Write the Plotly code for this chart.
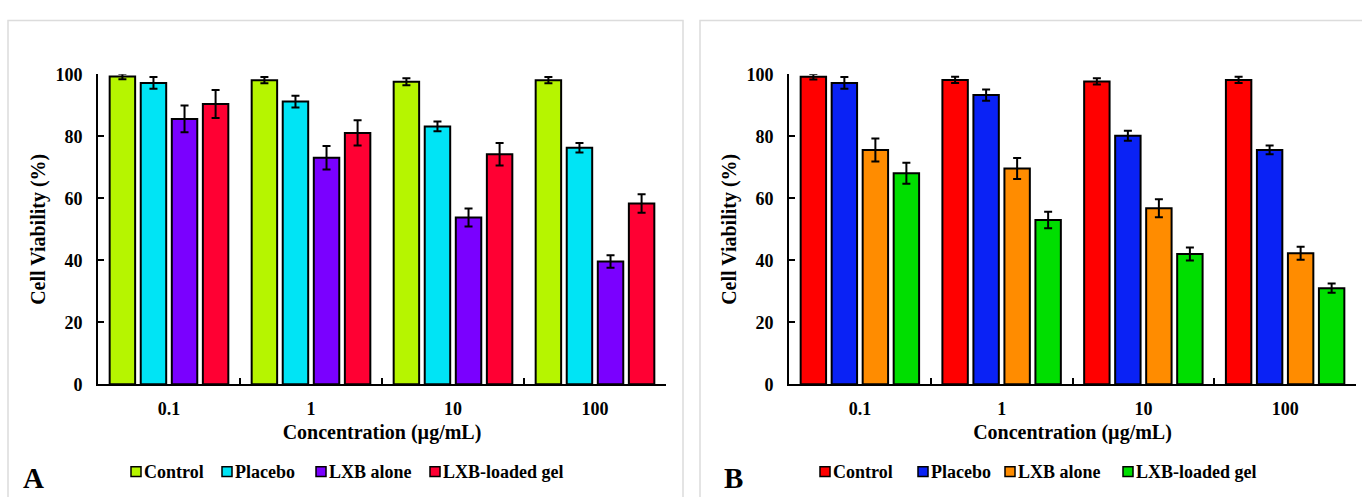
import plotly.graph_objects as go

# Shared categories and series names
concentrations = ["0.1", "1", "10", "100"]
series_names = ["Control", "Placebo", "LXB alone", "LXB-loaded gel"]
y_ticks = [0, 20, 40, 60, 80, 100]

# Panel A: cell viability (%) and SD
a_control = [99.3, 98.1, 97.6, 98.1]
a_control_err = [0.9, 1.0, 1.1, 1.0]
a_placebo = [97.2, 91.2, 83.2, 76.3]
a_placebo_err = [1.9, 1.9, 1.6, 1.5]
a_lxb_alone = [85.6, 73.1, 53.8, 39.6]
a_lxb_alone_err = [4.3, 3.8, 2.9, 2.0]
a_lxb_gel = [90.4, 81.1, 74.2, 58.3]
a_lxb_gel_err = [4.5, 4.1, 3.6, 3.0]

# Panel B: cell viability (%) and SD
b_control = [99.2, 98.2, 97.7, 98.2]
b_control_err = [0.9, 1.0, 1.0, 1.0]
b_placebo = [97.2, 93.3, 80.2, 75.6]
b_placebo_err = [1.9, 1.8, 1.6, 1.4]
b_lxb_alone = [75.6, 69.6, 56.8, 42.3]
b_lxb_alone_err = [3.7, 3.4, 2.9, 2.1]
b_lxb_gel = [68.1, 53.0, 42.0, 31.0]
b_lxb_gel_err = [3.4, 2.7, 2.1, 1.5]

colors_a = ["#B6F500", "#00E4F5", "#7A00FF", "#FF0033"]
colors_b = ["#FF0000", "#0A22F5", "#FF8C00", "#00DE00"]

W, H = 1362, 497
FONT = "Liberation Serif"

fig = go.Figure()

panels = [
    ("x", "y",
     [a_control, a_placebo, a_lxb_alone, a_lxb_gel],
     [a_control_err, a_placebo_err, a_lxb_alone_err, a_lxb_gel_err],
     colors_a),
    ("x2", "y2",
     [b_control, b_placebo, b_lxb_alone, b_lxb_gel],
     [b_control_err, b_placebo_err, b_lxb_alone_err, b_lxb_gel_err],
     colors_b),
]

for xa, ya, values, errors, colors in panels:
    for name, vals, errs, col in zip(series_names, values, errors, colors):
        fig.add_trace(go.Bar(
            x=concentrations, y=vals, name=name,
            xaxis=xa, yaxis=ya, showlegend=False,
            marker=dict(color=col, line=dict(color="black", width=2)),
            error_y=dict(type="data", array=errs, color="black",
                         thickness=2, width=4),
            cliponaxis=False,
        ))

y_dom = [1 - 390 / H, 1 - 67 / H]
xdomains = {"xaxis": [98 / W, 666 / W], "xaxis2": [789 / W, 1356 / W]}

tick_font = dict(family=FONT, size=18, color="black", weight="bold")
title_font = dict(family=FONT, size=20, color="black", weight="bold")

for key, dom in xdomains.items():
    anchor = "y" if key == "xaxis" else "y2"
    fig.layout[key] = dict(
        domain=dom, anchor=anchor, type="category",
        range=[-0.5, 3.5], showline=True, linecolor="black", linewidth=2,
        ticks="inside", ticklen=6, tickwidth=2, tickcolor="black",
        tickson="boundaries", tickfont=tick_font, ticklabelstandoff=7,
        showgrid=False, zeroline=False,
        title=dict(text="Concentration (µg/mL)", font=title_font, standoff=7),
    )

for key, anchor in [("yaxis", "x"), ("yaxis2", "x2")]:
    fig.layout[key] = dict(
        domain=y_dom, anchor=anchor, range=[0, 100],
        tickvals=y_ticks, showline=True, linecolor="black", linewidth=2,
        ticks="inside", ticklen=6, tickwidth=2, tickcolor="black",
        tickfont=tick_font, ticklabelstandoff=10,
        showgrid=False, zeroline=False,
        title=dict(text="Cell Viability (%)", font=title_font, standoff=4),
    )

# Compact key under each panel: swatch followed closely by the series name
legend_font = dict(family=FONT, size=18, color="black", weight="bold")
legend_y = 481
swatch = 10
key_slots = [
    (colors_a, [131, 222, 316, 430]),
    (colors_b, [820, 918, 1005, 1123]),
]
for colors, lefts in key_slots:
    for name, col, left in zip(series_names, colors, lefts):
        fig.add_shape(type="rect", xref="paper", yref="paper",
                      x0=left / W, x1=(left + swatch) / W,
                      y0=1 - (legend_y + swatch / 2) / H,
                      y1=1 - (legend_y - swatch / 2) / H,
                      fillcolor=col, line=dict(color="black", width=1.5))
        fig.add_annotation(text=name, xref="paper", yref="paper",
                           x=(left + swatch + 2) / W, y=1 - legend_y / H,
                           xanchor="left", yanchor="middle", showarrow=False,
                           font=legend_font, borderpad=0)

# Light panel frames
for x0, x1 in [(8, 683), (700, 1375)]:
    fig.add_shape(type="rect", xref="paper", yref="paper",
                  x0=x0 / W, x1=x1 / W, y0=-0.05, y1=1 - 11 / H,
                  line=dict(color="#DCDCDC", width=1.5),
                  fillcolor="rgba(0,0,0,0)", layer="below")

# Panel letters
for letter, xpx in [("A", 33), ("B", 733)]:
    fig.add_annotation(text=letter, xref="paper", yref="paper",
                       x=xpx / W, y=1 - 488 / H, xanchor="center",
                       yanchor="middle", showarrow=False,
                       font=dict(family=FONT, size=29, color="black",
                                 weight="bold"))

fig.update_layout(
    width=W, height=H, margin=dict(l=0, r=0, t=0, b=0),
    paper_bgcolor="white", plot_bgcolor="white",
    barmode="group", bargap=0.125, bargroupgap=0.18,
    showlegend=False,
)

fig.write_html("out.html")
